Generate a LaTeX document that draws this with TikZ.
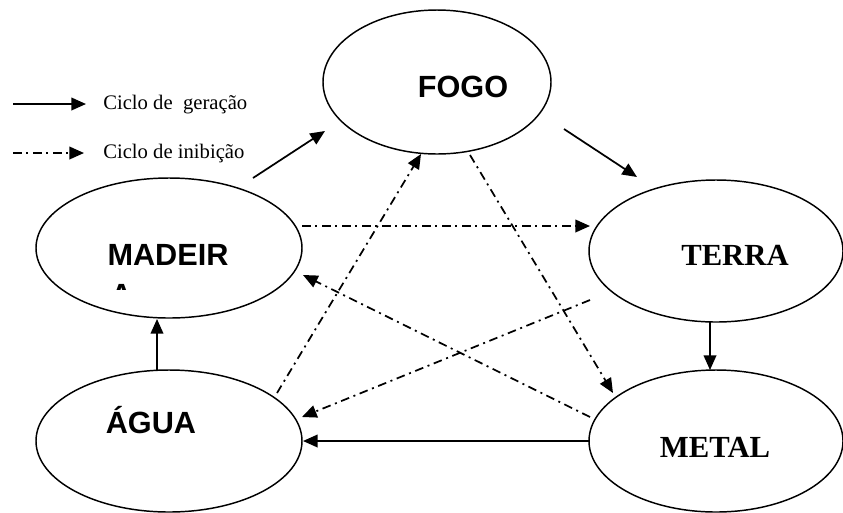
\documentclass[tikz,border=0pt]{standalone}
\usepackage{fontspec}
\setmainfont{Liberation Serif}
\newfontfamily\arialfont{Liberation Sans}
\usetikzlibrary{arrows.meta,shapes.geometric,calc}
\tikzset{
  elem/.style={draw, ellipse, line width=1.1pt, inner sep=0pt},
  sanslab/.style={font=\arialfont\bfseries\fontsize{23pt}{28pt}\selectfont, inner sep=0pt},
  seriflab/.style={font=\bfseries\fontsize{23pt}{28pt}\selectfont, inner sep=0pt},
  legtext/.style={font=\fontsize{15.5pt}{18pt}\selectfont, inner sep=0pt, anchor=base west},
  gen/.style={line width=1.3pt, -{Triangle[length=11pt,width=9.5pt]}},
  inib/.style={line width=1.3pt, dash pattern=on 6.5pt off 3.5pt on 1.5pt off 3.5pt, -{Triangle[length=11pt,width=9.5pt]}}
}
\begin{document}
\begin{tikzpicture}[x=0.75pt, y=-0.75pt]
\useasboundingbox (0,0) rectangle (843,512);
% element ellipses
\node[elem, minimum width=171pt, minimum height=108pt] (fogo) at (437,82) {};
\node[elem, minimum width=199.5pt, minimum height=105pt] (mad) at (169,248) {};
\node[elem, minimum width=199.5pt, minimum height=106.5pt] (agua) at (169,441) {};
\node[elem, minimum width=190.5pt, minimum height=106.5pt] (terra) at (716,251) {};
\node[elem, minimum width=190.5pt, minimum height=106.5pt] (metal) at (716,441) {};
% labels
\node[sanslab, anchor=base] (tfogo) at (463,97) {FOGO};
\node[sanslab, anchor=base] (tmad) at (168,265) {MADEIR};
\begin{scope}
\clip (100,270) rectangle (140,289);
\node[sanslab, anchor=base west] (tmad2) at (110,305) {A};
\end{scope}
\node[sanslab, anchor=base] (tagua) at (151,433) {ÁGUA};
\node[seriflab, anchor=base] (tterra) at (735,265) {TERRA};
\node[seriflab, anchor=base] (tmetal) at (715,457) {METAL};
% legend
\coordinate (lg1a) at (13,104);
\coordinate (lg1b) at (86,104);
\coordinate (lg2a) at (13,153);
\coordinate (lg2b) at (84,153);
\draw[gen] (lg1a) -- (lg1b);
\draw[inib] (lg2a) -- (lg2b);
\node[legtext] (lt1) at (103,109) {Ciclo de\ \ geração};
\node[legtext] (lt2) at (103,158) {Ciclo de inibição};
% generation cycle
\draw[gen] ($(mad)+(84,-70)$) -- ($(fogo)+(-112,49)$);
\draw[gen] ($(fogo)+(127,47)$) -- ($(terra)+(-79,-74)$);
\draw[gen] ($(terra)+(-6,71)$) -- ($(metal)+(-6,-71)$);
\draw[gen] ($(metal)+(-127,0)$) -- ($(agua)+(134,0)$);
\draw[gen] ($(agua)+(-12,-71)$) -- ($(mad)+(-12,71)$);
% inhibition cycle
\draw[inib] ($(mad)+(133,-22)$) -- ($(terra)+(-126,-25)$);
\draw[inib] ($(fogo)+(33,73)$) -- ($(metal)+(-103,-48)$);
\draw[inib] ($(terra)+(-126,49)$) -- ($(agua)+(133,-24)$);
\draw[inib] ($(metal)+(-126,-24)$) -- ($(mad)+(134,27)$);
\draw[inib] ($(agua)+(108,-48)$) -- ($(fogo)+(-16,72)$);
\end{tikzpicture}
\end{document}
